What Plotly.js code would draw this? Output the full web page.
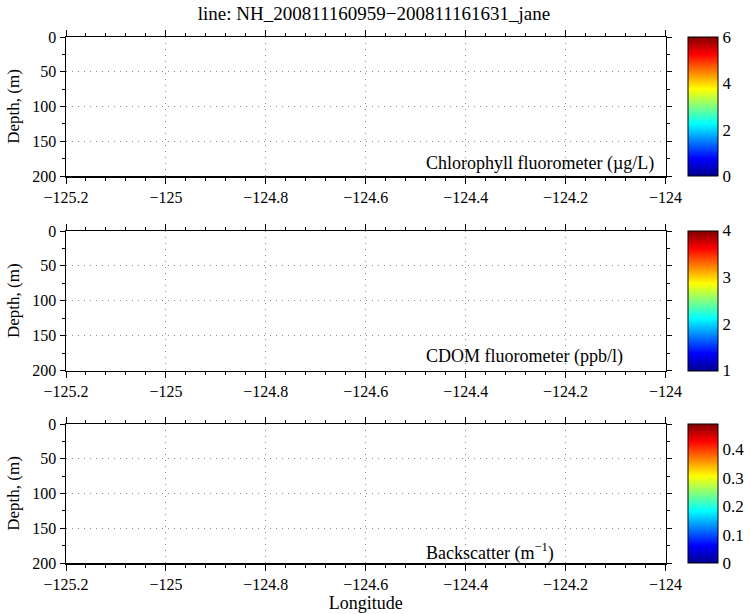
<!DOCTYPE html>
<html>
<head>
<meta charset="utf-8">
<script src="https://cdn.plot.ly/plotly-3.0.1.min.js"></script>
<style>html,body{margin:0;padding:0;background:#fff;}#chart{width:750px;height:614px;}</style>
</head>
<body>
<div id="chart"></div>
<script>
// Axis extents
const lonRange = [-125.2, -124];
const depthRange = [200, 0];
const lonTicks = [-125.2, -125, -124.8, -124.6, -124.4, -124.2, -124];
const depthTicks = [0, 50, 100, 150, 200];

// Panel definitions (the section is empty: no samples on this line)
const panelLabels = ["Chlorophyll fluorometer (\u00b5g/L)", "CDOM fluorometer (ppb/l)", "Backscatter (m<sup>\u22121</sup>)"];
const cbarMin = [0, 1, 0];
const cbarMax = [6, 4, 0.49];
const cbarTicks = [[0, 2, 4, 6], [1, 2, 3, 4], [0, 0.1, 0.2, 0.3, 0.4]];
const sampleLon = [null, null];
const sampleDepth = [null, null];

const jet = [
  [0, 'rgb(0,0,143)'], [0.125, 'rgb(0,0,255)'], [0.375, 'rgb(0,255,255)'],
  [0.625, 'rgb(255,255,0)'], [0.875, 'rgb(255,0,0)'], [1, 'rgb(128,0,0)']
];

const W = 750, H = 614;
const FONT = 'Liberation Serif, Times New Roman, serif';
const plotTop = [37, 231, 424];
const plotBot = [176, 370.5, 563];
const labelY = [0.09, 0.10, 0.08];
const xL = 66 / W, xR = 665.5 / W;

const data = [];
const layout = {
  width: W, height: H, autosize: false,
  margin: {l: 0, r: 0, t: 0, b: 0},
  paper_bgcolor: '#fff', plot_bgcolor: '#fff',
  font: {family: FONT, size: 16, color: '#000'},
  showlegend: false,
  annotations: [],
  title: {text: 'line: NH_200811160959\u2212200811161631_jane', font: {family: FONT, size: 19, color: '#000'},
          x: 374 / W, xanchor: 'center', xref: 'paper', y: 1 - 13 / H, yanchor: 'middle', yref: 'paper'}
};

for (let i = 0; i < 3; i++) {
  const sx = i === 0 ? '' : String(i + 1);
  const yb = 1 - plotBot[i] / H, yt = 1 - plotTop[i] / H;
  data.push({
    type: 'scatter', mode: 'markers', x: sampleLon, y: sampleDepth,
    xaxis: 'x' + sx, yaxis: 'y' + sx, hoverinfo: 'skip',
    marker: {
      color: [cbarMin[i], cbarMax[i]], cmin: cbarMin[i], cmax: cbarMax[i], colorscale: jet, showscale: true,
      colorbar: {
        x: 688 / W, xanchor: 'left', xref: 'paper', xpad: 0, ypad: 0,
        y: yb, yanchor: 'bottom', len: yt - yb, lenmode: 'fraction',
        thickness: 30, thicknessmode: 'pixels',
        outlinewidth: 1, outlinecolor: '#000', ticks: '',
        tickvals: cbarTicks[i], tickfont: {family: FONT, size: 17, color: '#000'}
      }
    }
  });
  const xa = {
    domain: [xL, xR], anchor: 'y' + sx, range: lonRange,
    tickvals: lonTicks, ticks: 'outside', ticklen: 6, tickwidth: 1, tickcolor: '#000',
    minor: {dtick: 0.04, tick0: -125.2, ticks: 'outside', ticklen: 3, tickwidth: 1, tickcolor: '#000', showgrid: false},
    showline: true, linecolor: '#000', linewidth: 1.5, mirror: 'allticks',
    showgrid: true, gridcolor: '#888', griddash: '1px,5px', gridwidth: 1, zeroline: false,
    tickfont: {family: FONT, size: 16, color: '#000'}
  };
  if (i === 2) xa.title = {text: 'Longitude', font: {family: FONT, size: 18, color: '#000'}, standoff: 1};
  layout['xaxis' + sx] = xa;
  layout['yaxis' + sx] = {
    domain: [yb, yt], anchor: 'x' + sx, range: depthRange,
    tickvals: depthTicks, ticks: 'outside', ticklen: 5, tickwidth: 1, tickcolor: '#000',
    minor: {dtick: 25, tick0: 0, ticks: 'outside', ticklen: 3, tickwidth: 1, tickcolor: '#000', showgrid: false},
    showline: true, linecolor: '#000', linewidth: 1.5, mirror: 'allticks',
    showgrid: true, gridcolor: '#888', griddash: '1px,5px', gridwidth: 1, zeroline: false,
    tickfont: {family: FONT, size: 16, color: '#000'},
    title: {text: 'Depth, (m)', font: {family: FONT, size: 17, color: '#000'}, standoff: 8}
  };
  layout.annotations.push({
    text: panelLabels[i], showarrow: false,
    xref: 'x' + sx + ' domain', yref: 'y' + sx + ' domain',
    x: (424 - 66) / 599.5, xanchor: 'left', y: labelY[i], yanchor: 'middle',
    font: {family: FONT, size: 18, color: '#000'}
  });
}

Plotly.newPlot('chart', data, layout, {displayModeBar: false, staticPlot: true});
</script>
</body>
</html>
